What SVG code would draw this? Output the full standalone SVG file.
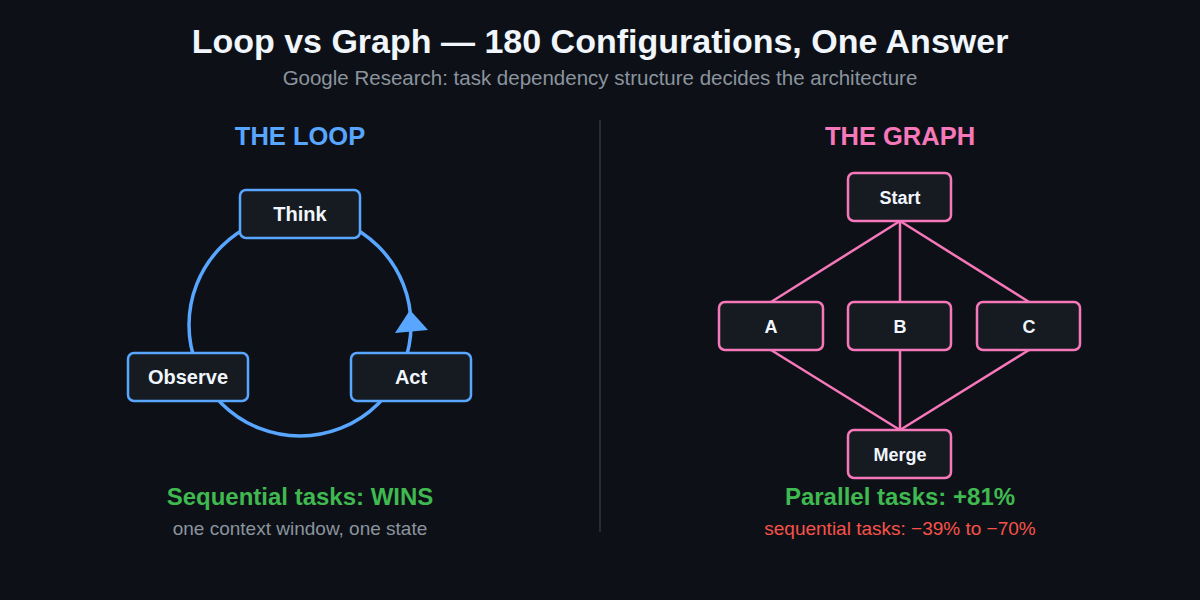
<svg xmlns="http://www.w3.org/2000/svg" width="1200" height="600" viewBox="0 0 1200 600">
<style>
.bg{fill:#0d1117}
.title{font-family:"Liberation Sans",Arial,sans-serif;font-weight:bold;font-size:34px;fill:#f0f6fc;text-anchor:middle}
.sub{font-family:"Liberation Sans",Arial,sans-serif;font-size:20.5px;fill:#8b949e;text-anchor:middle}
.sect{font-family:"Liberation Sans",Arial,sans-serif;font-weight:bold;font-size:25.5px;text-anchor:middle}
.lnode rect{fill:#161b22;stroke:#58a6ff;stroke-width:2.5}
.gnode rect{fill:#161b22;stroke:#f778ba;stroke-width:2.5}
.lnode text{font-family:"Liberation Sans",Arial,sans-serif;font-weight:bold;font-size:20px;fill:#f0f6fc;text-anchor:middle}
.gnode text{font-family:"Liberation Sans",Arial,sans-serif;font-weight:bold;font-size:18px;fill:#f0f6fc;text-anchor:middle}
.edge{stroke:#f778ba;stroke-width:2.5;fill:none}
.res{font-family:"Liberation Sans",Arial,sans-serif;font-weight:bold;font-size:24px;fill:#3fb950;text-anchor:middle}
.note{font-family:"Liberation Sans",Arial,sans-serif;font-size:19px;text-anchor:middle}
</style>
<rect class="bg" x="0" y="0" width="1200" height="600"/>
<text class="title" x="600" y="53">Loop vs Graph — 180 Configurations, One Answer</text>
<text class="sub" x="600" y="85">Google Research: task dependency structure decides the architecture</text>
<line x1="600" y1="120" x2="600" y2="532" stroke="#30363d" stroke-width="1.5"/>
<text class="sect" x="300" y="145" fill="#58a6ff">THE LOOP</text>
<text class="sect" x="900" y="145" fill="#f778ba">THE GRAPH</text>
<g id="connectors">
<circle cx="300" cy="325" r="111" fill="none" stroke="#58a6ff" stroke-width="3.5"/>
<polygon points="410,310 428,330 395,333" fill="#58a6ff"/>
<line class="edge" x1="900" y1="221" x2="771" y2="302"/>
<line class="edge" x1="900" y1="221" x2="900" y2="302"/>
<line class="edge" x1="900" y1="221" x2="1029" y2="302"/>
<line class="edge" x1="771" y1="350" x2="900" y2="430"/>
<line class="edge" x1="900" y1="350" x2="900" y2="430"/>
<line class="edge" x1="1029" y1="350" x2="900" y2="430"/>
</g>
<g id="think" class="lnode"><rect x="240" y="190" width="120" height="48" rx="6"/><text x="300" y="221">Think</text></g>
<g id="observe" class="lnode"><rect x="128" y="353" width="120" height="48" rx="6"/><text x="188" y="384">Observe</text></g>
<g id="act" class="lnode"><rect x="351" y="353" width="120" height="48" rx="6"/><text x="411" y="384">Act</text></g>
<g id="start" class="gnode"><rect x="848" y="173" width="103" height="48" rx="6"/><text x="900" y="204">Start</text></g>
<g id="a" class="gnode"><rect x="719" y="302" width="104" height="48" rx="6"/><text x="771" y="333">A</text></g>
<g id="b" class="gnode"><rect x="848" y="302" width="103" height="48" rx="6"/><text x="900" y="333">B</text></g>
<g id="c" class="gnode"><rect x="977" y="302" width="103" height="48" rx="6"/><text x="1029" y="333">C</text></g>
<g id="merge" class="gnode"><rect x="848" y="430" width="103" height="48" rx="6"/><text x="900" y="461">Merge</text></g>
<text class="res" x="300" y="505">Sequential tasks: WINS</text>
<text class="note" x="300" y="535" fill="#8b949e">one context window, one state</text>
<text class="res" x="900" y="505">Parallel tasks: +81%</text>
<text class="note" x="900" y="535" fill="#f85149">sequential tasks: −39% to −70%</text>
</svg>
